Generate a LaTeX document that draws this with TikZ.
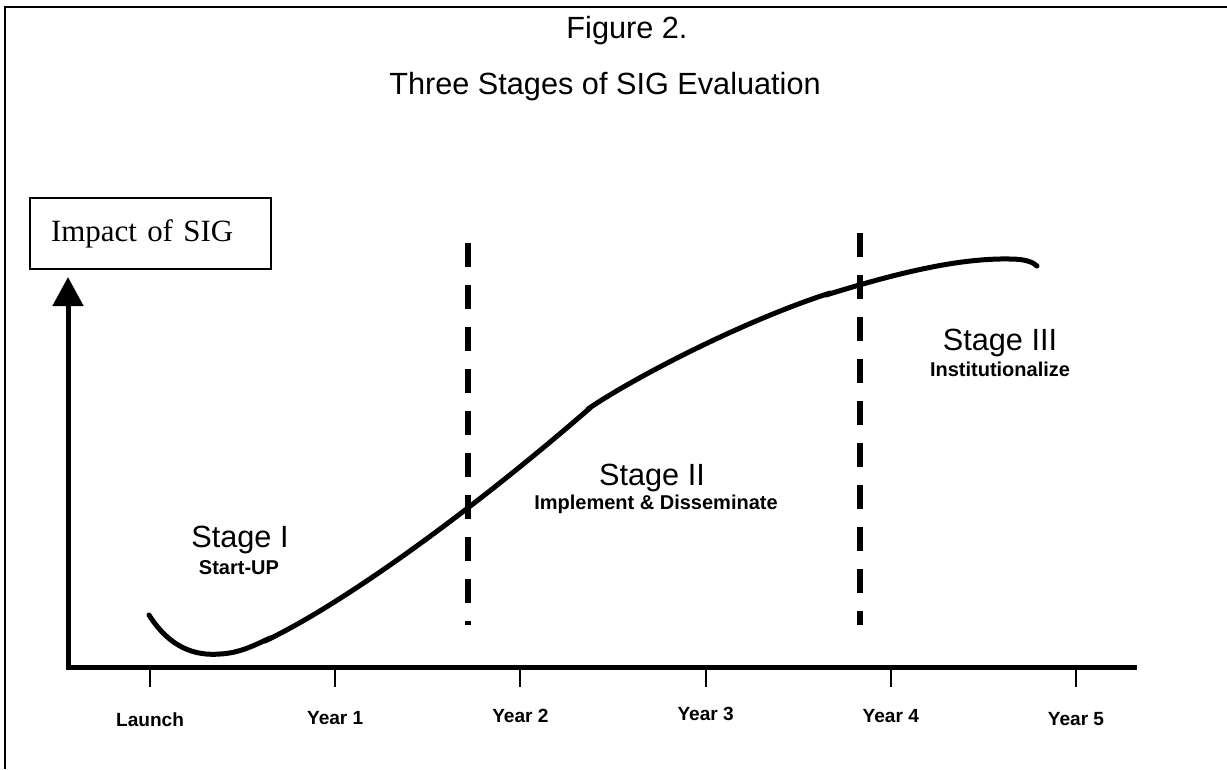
\documentclass[tikz,border=0pt]{standalone}
\usepackage{fontspec}
\setmainfont{Liberation Sans}
\newfontfamily\timesfont{Liberation Serif}
\usetikzlibrary{arrows.meta}
\begin{document}
\begin{tikzpicture}[x=0.75pt,y=-0.75pt,
  frameline/.style={line width=1.8pt,black},
  axisline/.style={line width=3.75pt,black},
  tickline/.style={line width=1.5pt,black},
  curveline/.style={line width=3.75pt,black,line cap=round},
  stageline/.style={line width=4.5pt,black,dash pattern=on 18pt off 13.5pt},
  bigtext/.style={inner sep=0pt,font=\fontsize{23}{27}\selectfont},
  subtext/.style={inner sep=0pt,font=\fontsize{15}{18}\selectfont\bfseries},
  yeartext/.style={inner sep=0pt,font=\fontsize{14.3}{17}\selectfont\bfseries}]
\useasboundingbox (0,0) rectangle (1227,769);
% frame
\coordinate (fbl) at (5,769);
\coordinate (ftl) at (5,7);
\coordinate (ftr) at (1227,7);
\draw[frameline] (fbl) -- (ftl) -- (ftr);
% titles
\node[bigtext] (fig) at (627,31) {Figure 2.};
\node[bigtext] (title) at (605,87) {Three Stages of SIG Evaluation};
% y label box
\node[draw,line width=1.6pt,anchor=west,minimum height=71*0.75pt,text width=199*0.75pt,
  inner xsep=21*0.75pt,align=left,font=\timesfont\fontsize{23.2}{27}\selectfont] (ylab) at (29,233.5) {Impact of SIG};
% axes
\coordinate (origin) at (68,667);
\coordinate (ytop) at (68,277);
\coordinate (xstart) at (66,667);
\coordinate (xend) at (1137,667);
\draw[axisline] (xstart) -- (xend);
\draw[axisline,-{Triangle[width=22.5pt,length=21.75pt]}] (68,669.5) -- (ytop);
% ticks and labels
\foreach \n/\x/\ly/\lab in {t0/150/720/Launch,t1/335.2/718/Year 1,t2/520.4/716/Year 2,t3/705.6/714/Year 3,t4/890.8/716/Year 4,t5/1076/719/Year 5}{
  \coordinate (\n a) at (\x,667);
  \coordinate (\n b) at (\x,687);
  \draw[tickline] (\n a) -- (\n b);
  \node[yeartext] (\n l) at (\x,\ly) {\lab};
}
% stage dividers
\coordinate (d1a) at (468,243);
\coordinate (d1b) at (468,625);
\coordinate (d2a) at (860,233);
\coordinate (d2b) at (860,625);
\draw[stageline] (d1a) -- (d1b);
\draw[stageline] (d2a) -- (d2b);
% curve
\coordinate (c0) at (149,615);
\coordinate (c1) at (220,654);
\coordinate (c2) at (270,638);
\coordinate (c3) at (265,641);
\coordinate (c4) at (590,408);
\coordinate (c5) at (588,409);
\coordinate (c6) at (830,293);
\coordinate (c7) at (826,295);
\coordinate (c8) at (1010,259);
\coordinate (c9) at (1037,266);
\draw[curveline] (c0) .. controls (170,648) and (195,656) .. (c1) .. controls (240,653) and (255,645) .. (c2);
\draw[curveline] (c3) .. controls (345,603) and (475,508) .. (c4);
\draw[curveline] (c5) .. controls (630,380) and (740,322) .. (c6);
\draw[curveline] (c7) .. controls (900,272) and (960,258) .. (c8) .. controls (1025,259) and (1033,262) .. (c9);
% stage labels
\node[bigtext] (s1) at (240,540) {Stage I};
\node[subtext] (s1b) at (239,568) {Start-UP};
\node[bigtext] (s2) at (652,478) {Stage II};
\node[subtext] (s2b) at (656,504) {Implement \& Disseminate};
\node[bigtext] (s3) at (1000,343) {Stage III};
\node[subtext] (s3b) at (1000,369) {Institutionalize};
\end{tikzpicture}
\end{document}
